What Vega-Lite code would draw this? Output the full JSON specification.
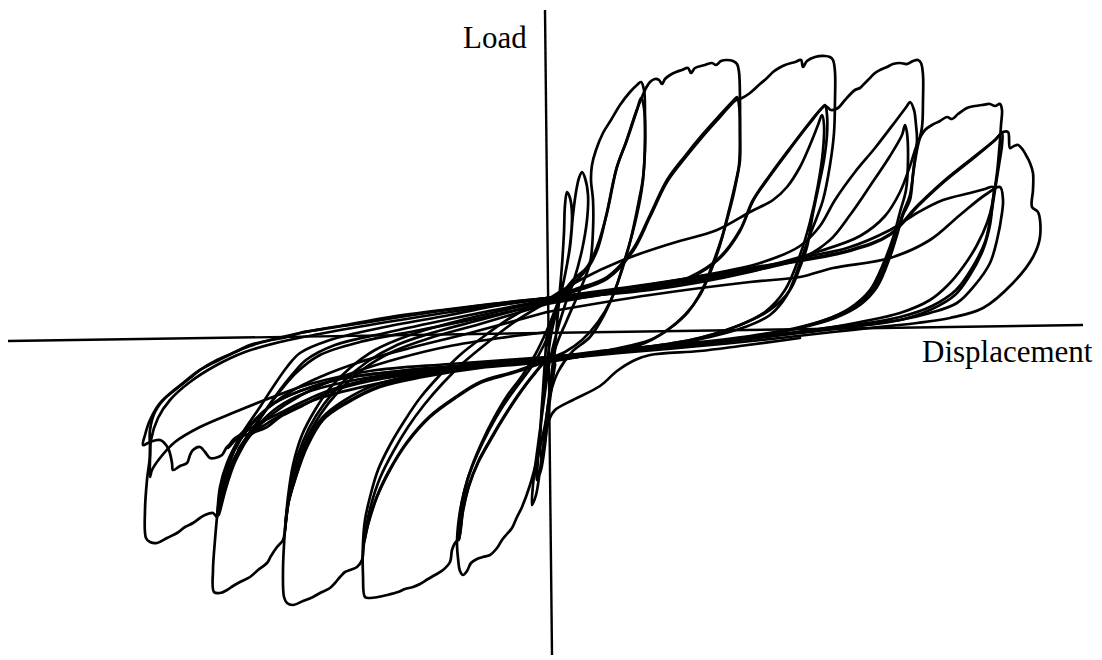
{
  "$schema": "https://vega.github.io/schema/vega-lite/v6.json",
  "width": 1102,
  "height": 660,
  "autosize": {"type": "fit", "contains": "padding"},
  "padding": 0,
  "background": "white",
  "config": {"view": {"stroke": null}},
  "datasets": {
    "axes": [
      {"d1": -539, "l1": -7, "d2": 536, "l2": 9},
      {"d1": -2, "l1": 324, "d2": 5, "l2": -321}
    ],
    "labels": [
      {"t": "Load", "d": -84, "l": 286},
      {"t": "Displacement", "d": 375, "l": -28}
    ],
    "loops": [
      {"s":1,"i":0,"d":0,"l":-11},{"s":1,"i":1,"d":6,"l":16},{"s":1,"i":2,"d":13,"l":37},{"s":1,"i":3,"d":19,"l":64},{"s":1,"i":4,"d":23,"l":87},{"s":1,"i":5,"d":26,"l":119},{"s":1,"i":6,"d":29,"l":142},{"s":1,"i":7,"d":32,"l":156},{"s":1,"i":8,"d":35,"l":162},{"s":1,"i":9,"d":38,"l":156},{"s":1,"i":10,"d":41,"l":139},{"s":1,"i":11,"d":40,"l":114},{"s":1,"i":12,"d":35,"l":84},{"s":1,"i":13,"d":27,"l":54},{"s":1,"i":14,"d":18,"l":29},{"s":1,"i":15,"d":9,"l":-1},{"s":1,"i":16,"d":2,"l":-31},{"s":1,"i":17,"d":-3,"l":-66},{"s":1,"i":18,"d":-7,"l":-96},{"s":1,"i":19,"d":-11,"l":-126},{"s":1,"i":20,"d":-14,"l":-151},{"s":1,"i":21,"d":-15,"l":-171},{"s":1,"i":22,"d":-11,"l":-161},{"s":1,"i":23,"d":-7,"l":-136},{"s":1,"i":24,"d":-3,"l":-106},{"s":1,"i":25,"d":1,"l":-71},{"s":1,"i":26,"d":5,"l":-36},{"s":1,"i":27,"d":9,"l":-1},{"s":1,"i":28,"d":12,"l":34},{"s":1,"i":29,"d":15,"l":69},{"s":1,"i":30,"d":17,"l":102},{"s":1,"i":31,"d":18,"l":129},{"s":1,"i":32,"d":20,"l":142},{"s":1,"i":33,"d":23,"l":136},{"s":1,"i":34,"d":25,"l":119},{"s":1,"i":35,"d":23,"l":89},{"s":1,"i":36,"d":18,"l":59},{"s":1,"i":37,"d":11,"l":29},{"s":1,"i":38,"d":4,"l":-1},{"s":1,"i":39,"d":0,"l":-31},{"s":1,"i":40,"d":-4,"l":-66},{"s":1,"i":41,"d":-7,"l":-101},{"s":1,"i":42,"d":-9,"l":-126},{"s":1,"i":43,"d":-10,"l":-146},{"s":1,"i":44,"d":-6,"l":-136},{"s":1,"i":45,"d":-2,"l":-111},{"s":1,"i":46,"d":1,"l":-81},{"s":1,"i":47,"d":5,"l":-51},{"s":1,"i":48,"d":8,"l":-31},

      {"s":2,"i":0,"d":8,"l":-31},{"s":2,"i":1,"d":8,"l":-16},{"s":2,"i":2,"d":20,"l":14},{"s":2,"i":3,"d":33,"l":44},{"s":2,"i":4,"d":43,"l":71},{"s":2,"i":5,"d":46,"l":104},{"s":2,"i":6,"d":46,"l":134},{"s":2,"i":7,"d":44,"l":154},{"s":2,"i":8,"d":45,"l":169},{"s":2,"i":9,"d":49,"l":184},{"s":2,"i":10,"d":56,"l":201},{"s":2,"i":11,"d":64,"l":214},{"s":2,"i":12,"d":73,"l":229},{"s":2,"i":13,"d":83,"l":242},{"s":2,"i":14,"d":90,"l":249},{"s":2,"i":15,"d":94,"l":252},{"s":2,"i":16,"d":97,"l":244},{"s":2,"i":17,"d":98,"l":219},{"s":2,"i":18,"d":98,"l":184},{"s":2,"i":19,"d":96,"l":154},{"s":2,"i":20,"d":93,"l":134},{"s":2,"i":21,"d":85,"l":99},{"s":2,"i":22,"d":77,"l":72},{"s":2,"i":23,"d":68,"l":44},{"s":2,"i":24,"d":57,"l":19},{"s":2,"i":25,"d":43,"l":-3},{"s":2,"i":26,"d":25,"l":-18},{"s":2,"i":27,"d":11,"l":-38},{"s":2,"i":28,"d":3,"l":-61},{"s":2,"i":29,"d":-2,"l":-91},{"s":2,"i":30,"d":-9,"l":-121},{"s":2,"i":31,"d":-17,"l":-151},{"s":2,"i":32,"d":-25,"l":-173},{"s":2,"i":33,"d":-30,"l":-183},{"s":2,"i":34,"d":-35,"l":-194},{"s":2,"i":35,"d":-40,"l":-200},{"s":2,"i":36,"d":-45,"l":-206},{"s":2,"i":37,"d":-50,"l":-214},{"s":2,"i":38,"d":-57,"l":-221},{"s":2,"i":39,"d":-64,"l":-223},{"s":2,"i":40,"d":-70,"l":-225},{"s":2,"i":41,"d":-76,"l":-229},{"s":2,"i":42,"d":-80,"l":-237},{"s":2,"i":43,"d":-84,"l":-241},{"s":2,"i":44,"d":-87,"l":-237},{"s":2,"i":45,"d":-89,"l":-224},{"s":2,"i":46,"d":-90,"l":-209},{"s":2,"i":47,"d":-88,"l":-184},{"s":2,"i":48,"d":-83,"l":-158},{"s":2,"i":49,"d":-75,"l":-132},{"s":2,"i":50,"d":-65,"l":-108},{"s":2,"i":51,"d":-53,"l":-84},{"s":2,"i":52,"d":-40,"l":-62},{"s":2,"i":53,"d":-25,"l":-42},{"s":2,"i":54,"d":-12,"l":-21},{"s":2,"i":55,"d":0,"l":4},{"s":2,"i":56,"d":8,"l":24},{"s":2,"i":57,"d":13,"l":37},

      {"s":3,"i":0,"d":13,"l":37},{"s":3,"i":1,"d":26,"l":54},{"s":3,"i":2,"d":40,"l":67},{"s":3,"i":3,"d":50,"l":87},{"s":3,"i":4,"d":60,"l":121},{"s":3,"i":5,"d":70,"l":167},{"s":3,"i":6,"d":80,"l":194},{"s":3,"i":7,"d":90,"l":224},{"s":3,"i":8,"d":94,"l":236},{"s":3,"i":9,"d":97,"l":226},{"s":3,"i":10,"d":98,"l":194},{"s":3,"i":11,"d":96,"l":156},{"s":3,"i":12,"d":92,"l":134},{"s":3,"i":13,"d":84,"l":96},{"s":3,"i":14,"d":75,"l":64},{"s":3,"i":15,"d":64,"l":34},{"s":3,"i":16,"d":51,"l":12},{"s":3,"i":17,"d":35,"l":-6},{"s":3,"i":18,"d":18,"l":-18},{"s":3,"i":19,"d":0,"l":-26},{"s":3,"i":20,"d":-14,"l":-41},{"s":3,"i":21,"d":-29,"l":-61},{"s":3,"i":22,"d":-44,"l":-84},{"s":3,"i":23,"d":-57,"l":-106},{"s":3,"i":24,"d":-69,"l":-128},{"s":3,"i":25,"d":-78,"l":-151},{"s":3,"i":26,"d":-84,"l":-176},{"s":3,"i":27,"d":-88,"l":-206},{"s":3,"i":28,"d":-88,"l":-191},{"s":3,"i":29,"d":-85,"l":-168},{"s":3,"i":30,"d":-79,"l":-144},{"s":3,"i":31,"d":-70,"l":-121},{"s":3,"i":32,"d":-58,"l":-96},{"s":3,"i":33,"d":-44,"l":-72},{"s":3,"i":34,"d":-29,"l":-51},{"s":3,"i":35,"d":-15,"l":-32},{"s":3,"i":36,"d":-3,"l":-11},{"s":3,"i":37,"d":6,"l":12},{"s":3,"i":38,"d":13,"l":34},

      {"s":4,"i":0,"d":13,"l":34},{"s":4,"i":1,"d":27,"l":51},{"s":4,"i":2,"d":41,"l":66},{"s":4,"i":3,"d":51,"l":86},{"s":4,"i":4,"d":60,"l":122},{"s":4,"i":5,"d":69,"l":164},{"s":4,"i":6,"d":79,"l":192},{"s":4,"i":7,"d":89,"l":222},{"s":4,"i":8,"d":95,"l":237},{"s":4,"i":9,"d":99,"l":246},{"s":4,"i":10,"d":103,"l":252},{"s":4,"i":11,"d":108,"l":255},{"s":4,"i":12,"d":112,"l":254},{"s":4,"i":13,"d":115,"l":250},{"s":4,"i":14,"d":118,"l":255},{"s":4,"i":15,"d":123,"l":259},{"s":4,"i":16,"d":129,"l":262},{"s":4,"i":17,"d":135,"l":264},{"s":4,"i":18,"d":141,"l":266},{"s":4,"i":19,"d":144,"l":261},{"s":4,"i":20,"d":148,"l":266},{"s":4,"i":21,"d":158,"l":269},{"s":4,"i":22,"d":165,"l":271},{"s":4,"i":23,"d":169,"l":269},{"s":4,"i":24,"d":174,"l":273},{"s":4,"i":25,"d":180,"l":274},{"s":4,"i":26,"d":186,"l":273},{"s":4,"i":27,"d":190,"l":270},{"s":4,"i":28,"d":192,"l":262},{"s":4,"i":29,"d":193,"l":234},{"s":4,"i":30,"d":193,"l":201},{"s":4,"i":31,"d":193,"l":174},{"s":4,"i":32,"d":190,"l":156},{"s":4,"i":33,"d":186,"l":137},{"s":4,"i":34,"d":180,"l":114},{"s":4,"i":35,"d":173,"l":89},{"s":4,"i":36,"d":165,"l":66},{"s":4,"i":37,"d":153,"l":39},{"s":4,"i":38,"d":138,"l":19},{"s":4,"i":39,"d":118,"l":2},{"s":4,"i":40,"d":93,"l":-11},{"s":4,"i":41,"d":53,"l":-19},{"s":4,"i":42,"d":23,"l":-24},{"s":4,"i":43,"d":0,"l":-27},{"s":4,"i":44,"d":-14,"l":-42},{"s":4,"i":45,"d":-29,"l":-62},{"s":4,"i":46,"d":-44,"l":-85},{"s":4,"i":47,"d":-57,"l":-107},{"s":4,"i":48,"d":-69,"l":-129},{"s":4,"i":49,"d":-78,"l":-152},{"s":4,"i":50,"d":-84,"l":-177},{"s":4,"i":51,"d":-88,"l":-204},{"s":4,"i":52,"d":-92,"l":-209},{"s":4,"i":53,"d":-95,"l":-216},{"s":4,"i":54,"d":-97,"l":-228},{"s":4,"i":55,"d":-104,"l":-236},{"s":4,"i":56,"d":-112,"l":-241},{"s":4,"i":57,"d":-119,"l":-245},{"s":4,"i":58,"d":-127,"l":-250},{"s":4,"i":59,"d":-134,"l":-253},{"s":4,"i":60,"d":-142,"l":-255},{"s":4,"i":61,"d":-149,"l":-258},{"s":4,"i":62,"d":-160,"l":-261},{"s":4,"i":63,"d":-169,"l":-263},{"s":4,"i":64,"d":-177,"l":-264},{"s":4,"i":65,"d":-182,"l":-263},{"s":4,"i":66,"d":-184,"l":-241},{"s":4,"i":67,"d":-184,"l":-209},{"s":4,"i":68,"d":-182,"l":-186},{"s":4,"i":69,"d":-177,"l":-163},{"s":4,"i":70,"d":-169,"l":-136},{"s":4,"i":71,"d":-157,"l":-111},{"s":4,"i":72,"d":-142,"l":-86},{"s":4,"i":73,"d":-127,"l":-64},{"s":4,"i":74,"d":-107,"l":-41},{"s":4,"i":75,"d":-87,"l":-21},{"s":4,"i":76,"d":-64,"l":-3},{"s":4,"i":77,"d":-37,"l":16},{"s":4,"i":78,"d":-17,"l":27},{"s":4,"i":79,"d":0,"l":34},

      {"s":5,"i":0,"d":0,"l":34},{"s":5,"i":1,"d":26,"l":44},{"s":5,"i":2,"d":60,"l":57},{"s":5,"i":3,"d":86,"l":85},{"s":5,"i":4,"d":103,"l":119},{"s":5,"i":5,"d":120,"l":154},{"s":5,"i":6,"d":138,"l":178},{"s":5,"i":7,"d":156,"l":200},{"s":5,"i":8,"d":173,"l":219},{"s":5,"i":9,"d":186,"l":233},{"s":5,"i":10,"d":190,"l":237},{"s":5,"i":11,"d":192,"l":229},{"s":5,"i":12,"d":193,"l":199},{"s":5,"i":13,"d":192,"l":169},{"s":5,"i":14,"d":188,"l":149},{"s":5,"i":15,"d":182,"l":124},{"s":5,"i":16,"d":175,"l":97},{"s":5,"i":17,"d":166,"l":71},{"s":5,"i":18,"d":155,"l":44},{"s":5,"i":19,"d":141,"l":22},{"s":5,"i":20,"d":123,"l":6},{"s":5,"i":21,"d":103,"l":-6},{"s":5,"i":22,"d":63,"l":-16},{"s":5,"i":23,"d":28,"l":-23},{"s":5,"i":24,"d":0,"l":-28},{"s":5,"i":25,"d":-34,"l":-39},{"s":5,"i":26,"d":-67,"l":-49},{"s":5,"i":27,"d":-90,"l":-63},{"s":5,"i":28,"d":-117,"l":-83},{"s":5,"i":29,"d":-140,"l":-109},{"s":5,"i":30,"d":-157,"l":-136},{"s":5,"i":31,"d":-170,"l":-163},{"s":5,"i":32,"d":-179,"l":-191},{"s":5,"i":33,"d":-183,"l":-209},{"s":5,"i":34,"d":-181,"l":-194},{"s":5,"i":35,"d":-176,"l":-171},{"s":5,"i":36,"d":-167,"l":-144},{"s":5,"i":37,"d":-154,"l":-118},{"s":5,"i":38,"d":-139,"l":-93},{"s":5,"i":39,"d":-123,"l":-71},{"s":5,"i":40,"d":-104,"l":-49},{"s":5,"i":41,"d":-84,"l":-29},{"s":5,"i":42,"d":-60,"l":-9},{"s":5,"i":43,"d":-34,"l":11},{"s":5,"i":44,"d":0,"l":32},

      {"s":6,"i":0,"d":0,"l":32},{"s":6,"i":1,"d":26,"l":42},{"s":6,"i":2,"d":60,"l":55},{"s":6,"i":3,"d":86,"l":83},{"s":6,"i":4,"d":103,"l":117},{"s":6,"i":5,"d":120,"l":152},{"s":6,"i":6,"d":138,"l":176},{"s":6,"i":7,"d":156,"l":198},{"s":6,"i":8,"d":173,"l":217},{"s":6,"i":9,"d":189,"l":234},{"s":6,"i":10,"d":195,"l":236},{"s":6,"i":11,"d":203,"l":241},{"s":6,"i":12,"d":213,"l":250},{"s":6,"i":13,"d":220,"l":256},{"s":6,"i":14,"d":226,"l":262},{"s":6,"i":15,"d":232,"l":266},{"s":6,"i":16,"d":238,"l":269},{"s":6,"i":17,"d":248,"l":272},{"s":6,"i":18,"d":254,"l":274},{"s":6,"i":19,"d":256,"l":267},{"s":6,"i":20,"d":260,"l":273},{"s":6,"i":21,"d":268,"l":277},{"s":6,"i":22,"d":278,"l":278},{"s":6,"i":23,"d":283,"l":277},{"s":6,"i":24,"d":286,"l":274},{"s":6,"i":25,"d":288,"l":262},{"s":6,"i":26,"d":288,"l":234},{"s":6,"i":27,"d":287,"l":201},{"s":6,"i":28,"d":283,"l":169},{"s":6,"i":29,"d":276,"l":134},{"s":6,"i":30,"d":270,"l":117},{"s":6,"i":31,"d":261,"l":94},{"s":6,"i":32,"d":253,"l":71},{"s":6,"i":33,"d":240,"l":39},{"s":6,"i":34,"d":223,"l":19},{"s":6,"i":35,"d":198,"l":7},{"s":6,"i":36,"d":163,"l":-3},{"s":6,"i":37,"d":123,"l":-11},{"s":6,"i":38,"d":63,"l":-18},{"s":6,"i":39,"d":0,"l":-27},{"s":6,"i":40,"d":-34,"l":-38},{"s":6,"i":41,"d":-67,"l":-48},{"s":6,"i":42,"d":-90,"l":-62},{"s":6,"i":43,"d":-117,"l":-82},{"s":6,"i":44,"d":-140,"l":-108},{"s":6,"i":45,"d":-157,"l":-135},{"s":6,"i":46,"d":-170,"l":-162},{"s":6,"i":47,"d":-179,"l":-190},{"s":6,"i":48,"d":-183,"l":-209},{"s":6,"i":49,"d":-185,"l":-226},{"s":6,"i":50,"d":-190,"l":-233},{"s":6,"i":51,"d":-197,"l":-236},{"s":6,"i":52,"d":-202,"l":-238},{"s":6,"i":53,"d":-207,"l":-243},{"s":6,"i":54,"d":-212,"l":-249},{"s":6,"i":55,"d":-217,"l":-254},{"s":6,"i":56,"d":-227,"l":-259},{"s":6,"i":57,"d":-234,"l":-263},{"s":6,"i":58,"d":-244,"l":-267},{"s":6,"i":59,"d":-254,"l":-271},{"s":6,"i":60,"d":-260,"l":-269},{"s":6,"i":61,"d":-263,"l":-263},{"s":6,"i":62,"d":-264,"l":-236},{"s":6,"i":63,"d":-263,"l":-211},{"s":6,"i":64,"d":-262,"l":-196},{"s":6,"i":65,"d":-259,"l":-163},{"s":6,"i":66,"d":-254,"l":-131},{"s":6,"i":67,"d":-245,"l":-101},{"s":6,"i":68,"d":-232,"l":-76},{"s":6,"i":69,"d":-217,"l":-54},{"s":6,"i":70,"d":-197,"l":-34},{"s":6,"i":71,"d":-172,"l":-16},{"s":6,"i":72,"d":-137,"l":-1},{"s":6,"i":73,"d":-97,"l":11},{"s":6,"i":74,"d":-47,"l":23},{"s":6,"i":75,"d":0,"l":33},

      {"s":7,"i":0,"d":0,"l":33},{"s":7,"i":1,"d":60,"l":41},{"s":7,"i":2,"d":110,"l":47},{"s":7,"i":3,"d":143,"l":57},{"s":7,"i":4,"d":173,"l":77},{"s":7,"i":5,"d":193,"l":104},{"s":7,"i":6,"d":206,"l":134},{"s":7,"i":7,"d":223,"l":159},{"s":7,"i":8,"d":243,"l":186},{"s":7,"i":9,"d":263,"l":212},{"s":7,"i":10,"d":275,"l":226},{"s":7,"i":11,"d":278,"l":229},{"s":7,"i":12,"d":280,"l":219},{"s":7,"i":13,"d":280,"l":199},{"s":7,"i":14,"d":277,"l":174},{"s":7,"i":15,"d":273,"l":154},{"s":7,"i":16,"d":266,"l":121},{"s":7,"i":17,"d":260,"l":87},{"s":7,"i":18,"d":253,"l":67},{"s":7,"i":19,"d":243,"l":44},{"s":7,"i":20,"d":223,"l":24},{"s":7,"i":21,"d":193,"l":9},{"s":7,"i":22,"d":153,"l":-4},{"s":7,"i":23,"d":93,"l":-14},{"s":7,"i":24,"d":43,"l":-21},{"s":7,"i":25,"d":0,"l":-28},{"s":7,"i":26,"d":-67,"l":-34},{"s":7,"i":27,"d":-124,"l":-43},{"s":7,"i":28,"d":-167,"l":-53},{"s":7,"i":29,"d":-200,"l":-69},{"s":7,"i":30,"d":-224,"l":-86},{"s":7,"i":31,"d":-240,"l":-113},{"s":7,"i":32,"d":-252,"l":-146},{"s":7,"i":33,"d":-259,"l":-171},{"s":7,"i":34,"d":-262,"l":-196},{"s":7,"i":35,"d":-260,"l":-178},{"s":7,"i":36,"d":-256,"l":-151},{"s":7,"i":37,"d":-249,"l":-121},{"s":7,"i":38,"d":-238,"l":-94},{"s":7,"i":39,"d":-223,"l":-70},{"s":7,"i":40,"d":-204,"l":-48},{"s":7,"i":41,"d":-180,"l":-28},{"s":7,"i":42,"d":-150,"l":-11},{"s":7,"i":43,"d":-112,"l":2},{"s":7,"i":44,"d":-67,"l":14},{"s":7,"i":45,"d":0,"l":32},

      {"s":8,"i":0,"d":0,"l":34},{"s":8,"i":1,"d":33,"l":54},{"s":8,"i":2,"d":76,"l":74},{"s":8,"i":3,"d":126,"l":91},{"s":8,"i":4,"d":170,"l":104},{"s":8,"i":5,"d":203,"l":122},{"s":8,"i":6,"d":226,"l":134},{"s":8,"i":7,"d":240,"l":147},{"s":8,"i":8,"d":253,"l":167},{"s":8,"i":9,"d":263,"l":189},{"s":8,"i":10,"d":271,"l":209},{"s":8,"i":11,"d":275,"l":219},{"s":8,"i":12,"d":277,"l":209},{"s":8,"i":13,"d":276,"l":184},{"s":8,"i":14,"d":271,"l":149},{"s":8,"i":15,"d":263,"l":112},{"s":8,"i":16,"d":253,"l":79},{"s":8,"i":17,"d":238,"l":44},{"s":8,"i":18,"d":218,"l":22},{"s":8,"i":19,"d":188,"l":7},{"s":8,"i":20,"d":143,"l":-6},{"s":8,"i":21,"d":83,"l":-15},{"s":8,"i":22,"d":0,"l":-26},{"s":8,"i":23,"d":-77,"l":-32},{"s":8,"i":24,"d":-127,"l":-40},{"s":8,"i":25,"d":-172,"l":-51},{"s":8,"i":26,"d":-202,"l":-66},{"s":8,"i":27,"d":-225,"l":-84},{"s":8,"i":28,"d":-242,"l":-113},{"s":8,"i":29,"d":-254,"l":-148},{"s":8,"i":30,"d":-260,"l":-176},{"s":8,"i":31,"d":-262,"l":-194},{"s":8,"i":32,"d":-258,"l":-166},{"s":8,"i":33,"d":-251,"l":-136},{"s":8,"i":34,"d":-241,"l":-106},{"s":8,"i":35,"d":-227,"l":-81},{"s":8,"i":36,"d":-209,"l":-58},{"s":8,"i":37,"d":-185,"l":-36},{"s":8,"i":38,"d":-155,"l":-18},{"s":8,"i":39,"d":-117,"l":-4},{"s":8,"i":40,"d":-67,"l":10},{"s":8,"i":41,"d":0,"l":30},

      {"s":9,"i":0,"d":0,"l":30},{"s":9,"i":1,"d":60,"l":40},{"s":9,"i":2,"d":110,"l":46},{"s":9,"i":3,"d":143,"l":56},{"s":9,"i":4,"d":173,"l":76},{"s":9,"i":5,"d":193,"l":103},{"s":9,"i":6,"d":206,"l":133},{"s":9,"i":7,"d":223,"l":158},{"s":9,"i":8,"d":243,"l":185},{"s":9,"i":9,"d":263,"l":211},{"s":9,"i":10,"d":278,"l":228},{"s":9,"i":11,"d":284,"l":224},{"s":9,"i":12,"d":291,"l":226},{"s":9,"i":13,"d":298,"l":234},{"s":9,"i":14,"d":308,"l":244},{"s":9,"i":15,"d":313,"l":246},{"s":9,"i":16,"d":317,"l":250},{"s":9,"i":17,"d":321,"l":254},{"s":9,"i":18,"d":328,"l":261},{"s":9,"i":19,"d":333,"l":264},{"s":9,"i":20,"d":340,"l":267},{"s":9,"i":21,"d":346,"l":270},{"s":9,"i":22,"d":353,"l":271},{"s":9,"i":23,"d":360,"l":270},{"s":9,"i":24,"d":366,"l":273},{"s":9,"i":25,"d":371,"l":274},{"s":9,"i":26,"d":374,"l":271},{"s":9,"i":27,"d":376,"l":259},{"s":9,"i":28,"d":376,"l":234},{"s":9,"i":29,"d":375,"l":207},{"s":9,"i":30,"d":370,"l":184},{"s":9,"i":31,"d":366,"l":159},{"s":9,"i":32,"d":363,"l":134},{"s":9,"i":33,"d":356,"l":119},{"s":9,"i":34,"d":350,"l":99},{"s":9,"i":35,"d":343,"l":77},{"s":9,"i":36,"d":330,"l":47},{"s":9,"i":37,"d":313,"l":29},{"s":9,"i":38,"d":288,"l":16},{"s":9,"i":39,"d":253,"l":6},{"s":9,"i":40,"d":203,"l":-3},{"s":9,"i":41,"d":133,"l":-11},{"s":9,"i":42,"d":53,"l":-18},{"s":9,"i":43,"d":0,"l":-26},{"s":9,"i":44,"d":-67,"l":-33},{"s":9,"i":45,"d":-124,"l":-42},{"s":9,"i":46,"d":-167,"l":-52},{"s":9,"i":47,"d":-200,"l":-68},{"s":9,"i":48,"d":-224,"l":-85},{"s":9,"i":49,"d":-240,"l":-112},{"s":9,"i":50,"d":-252,"l":-145},{"s":9,"i":51,"d":-259,"l":-170},{"s":9,"i":52,"d":-262,"l":-196},{"s":9,"i":53,"d":-264,"l":-206},{"s":9,"i":54,"d":-270,"l":-213},{"s":9,"i":55,"d":-276,"l":-222},{"s":9,"i":56,"d":-280,"l":-229},{"s":9,"i":57,"d":-289,"l":-236},{"s":9,"i":58,"d":-297,"l":-243},{"s":9,"i":59,"d":-307,"l":-248},{"s":9,"i":60,"d":-314,"l":-252},{"s":9,"i":61,"d":-320,"l":-256},{"s":9,"i":62,"d":-327,"l":-259},{"s":9,"i":63,"d":-333,"l":-258},{"s":9,"i":64,"d":-334,"l":-236},{"s":9,"i":65,"d":-332,"l":-206},{"s":9,"i":66,"d":-330,"l":-183},{"s":9,"i":67,"d":-327,"l":-153},{"s":9,"i":68,"d":-320,"l":-129},{"s":9,"i":69,"d":-307,"l":-103},{"s":9,"i":70,"d":-287,"l":-73},{"s":9,"i":71,"d":-274,"l":-53},{"s":9,"i":72,"d":-260,"l":-33},{"s":9,"i":73,"d":-247,"l":-19},{"s":9,"i":74,"d":-217,"l":-6},{"s":9,"i":75,"d":-167,"l":6},{"s":9,"i":76,"d":-97,"l":19},{"s":9,"i":77,"d":-47,"l":29},{"s":9,"i":78,"d":0,"l":36},

      {"s":10,"i":0,"d":0,"l":36},{"s":10,"i":1,"d":73,"l":45},{"s":10,"i":2,"d":153,"l":58},{"s":10,"i":3,"d":213,"l":71},{"s":10,"i":4,"d":253,"l":88},{"s":10,"i":5,"d":273,"l":108},{"s":10,"i":6,"d":288,"l":134},{"s":10,"i":7,"d":308,"l":162},{"s":10,"i":8,"d":328,"l":186},{"s":10,"i":9,"d":348,"l":212},{"s":10,"i":10,"d":360,"l":228},{"s":10,"i":11,"d":363,"l":232},{"s":10,"i":12,"d":367,"l":224},{"s":10,"i":13,"d":369,"l":209},{"s":10,"i":14,"d":370,"l":194},{"s":10,"i":15,"d":367,"l":169},{"s":10,"i":16,"d":363,"l":139},{"s":10,"i":17,"d":356,"l":121},{"s":10,"i":18,"d":349,"l":99},{"s":10,"i":19,"d":341,"l":76},{"s":10,"i":20,"d":328,"l":48},{"s":10,"i":21,"d":311,"l":30},{"s":10,"i":22,"d":286,"l":17},{"s":10,"i":23,"d":253,"l":7},{"s":10,"i":24,"d":203,"l":-2},{"s":10,"i":25,"d":133,"l":-10},{"s":10,"i":26,"d":53,"l":-17},{"s":10,"i":27,"d":0,"l":-24},{"s":10,"i":28,"d":-77,"l":-31},{"s":10,"i":29,"d":-147,"l":-37},{"s":10,"i":30,"d":-207,"l":-45},{"s":10,"i":31,"d":-247,"l":-57},{"s":10,"i":32,"d":-274,"l":-70},{"s":10,"i":33,"d":-292,"l":-86},{"s":10,"i":34,"d":-307,"l":-106},{"s":10,"i":35,"d":-319,"l":-131},{"s":10,"i":36,"d":-326,"l":-156},{"s":10,"i":37,"d":-330,"l":-183},{"s":10,"i":38,"d":-325,"l":-158},{"s":10,"i":39,"d":-317,"l":-133},{"s":10,"i":40,"d":-303,"l":-107},{"s":10,"i":41,"d":-284,"l":-80},{"s":10,"i":42,"d":-270,"l":-60},{"s":10,"i":43,"d":-255,"l":-41},{"s":10,"i":44,"d":-241,"l":-26},{"s":10,"i":45,"d":-212,"l":-11},{"s":10,"i":46,"d":-162,"l":1},{"s":10,"i":47,"d":-97,"l":15},{"s":10,"i":48,"d":-47,"l":25},{"s":10,"i":49,"d":0,"l":34},

      {"s":11,"i":0,"d":0,"l":34},{"s":11,"i":1,"d":103,"l":46},{"s":11,"i":2,"d":193,"l":61},{"s":11,"i":3,"d":253,"l":75},{"s":11,"i":4,"d":283,"l":94},{"s":11,"i":5,"d":303,"l":119},{"s":11,"i":6,"d":323,"l":148},{"s":11,"i":7,"d":343,"l":178},{"s":11,"i":8,"d":355,"l":199},{"s":11,"i":9,"d":358,"l":209},{"s":11,"i":10,"d":360,"l":201},{"s":11,"i":11,"d":361,"l":174},{"s":11,"i":12,"d":359,"l":144},{"s":11,"i":13,"d":353,"l":122},{"s":11,"i":14,"d":346,"l":96},{"s":11,"i":15,"d":337,"l":72},{"s":11,"i":16,"d":323,"l":44},{"s":11,"i":17,"d":303,"l":26},{"s":11,"i":18,"d":278,"l":14},{"s":11,"i":19,"d":243,"l":4},{"s":11,"i":20,"d":193,"l":-5},{"s":11,"i":21,"d":123,"l":-13},{"s":11,"i":22,"d":53,"l":-20},{"s":11,"i":23,"d":0,"l":-27},{"s":11,"i":24,"d":-77,"l":-33},{"s":11,"i":25,"d":-147,"l":-39},{"s":11,"i":26,"d":-202,"l":-48},{"s":11,"i":27,"d":-242,"l":-59},{"s":11,"i":28,"d":-269,"l":-73},{"s":11,"i":29,"d":-287,"l":-89},{"s":11,"i":30,"d":-302,"l":-109},{"s":11,"i":31,"d":-315,"l":-133},{"s":11,"i":32,"d":-323,"l":-158},{"s":11,"i":33,"d":-328,"l":-181},{"s":11,"i":34,"d":-321,"l":-154},{"s":11,"i":35,"d":-312,"l":-128},{"s":11,"i":36,"d":-298,"l":-102},{"s":11,"i":37,"d":-281,"l":-76},{"s":11,"i":38,"d":-266,"l":-56},{"s":11,"i":39,"d":-250,"l":-38},{"s":11,"i":40,"d":-227,"l":-21},{"s":11,"i":41,"d":-187,"l":-8},{"s":11,"i":42,"d":-127,"l":4},{"s":11,"i":43,"d":-67,"l":16},{"s":11,"i":44,"d":0,"l":31},

      {"s":12,"i":0,"d":0,"l":31},{"s":12,"i":1,"d":103,"l":47},{"s":12,"i":2,"d":203,"l":64},{"s":12,"i":3,"d":273,"l":83},{"s":12,"i":4,"d":313,"l":98},{"s":12,"i":5,"d":338,"l":118},{"s":12,"i":6,"d":353,"l":142},{"s":12,"i":7,"d":363,"l":168},{"s":12,"i":8,"d":371,"l":192},{"s":12,"i":9,"d":378,"l":204},{"s":12,"i":10,"d":385,"l":209},{"s":12,"i":11,"d":393,"l":213},{"s":12,"i":12,"d":400,"l":217},{"s":12,"i":13,"d":405,"l":215},{"s":12,"i":14,"d":411,"l":220},{"s":12,"i":15,"d":420,"l":226},{"s":12,"i":16,"d":428,"l":228},{"s":12,"i":17,"d":435,"l":229},{"s":12,"i":18,"d":443,"l":230},{"s":12,"i":19,"d":448,"l":228},{"s":12,"i":20,"d":453,"l":230},{"s":12,"i":21,"d":455,"l":224},{"s":12,"i":22,"d":454,"l":209},{"s":12,"i":23,"d":453,"l":194},{"s":12,"i":24,"d":450,"l":161},{"s":12,"i":25,"d":446,"l":134},{"s":12,"i":26,"d":443,"l":109},{"s":12,"i":27,"d":436,"l":84},{"s":12,"i":28,"d":423,"l":59},{"s":12,"i":29,"d":408,"l":39},{"s":12,"i":30,"d":383,"l":24},{"s":12,"i":31,"d":353,"l":14},{"s":12,"i":32,"d":313,"l":8},{"s":12,"i":33,"d":253,"l":1},{"s":12,"i":34,"d":173,"l":-8},{"s":12,"i":35,"d":93,"l":-16},{"s":12,"i":36,"d":0,"l":-24},{"s":12,"i":37,"d":-77,"l":-31},{"s":12,"i":38,"d":-147,"l":-37},{"s":12,"i":39,"d":-207,"l":-45},{"s":12,"i":40,"d":-247,"l":-57},{"s":12,"i":41,"d":-274,"l":-70},{"s":12,"i":42,"d":-292,"l":-86},{"s":12,"i":43,"d":-307,"l":-106},{"s":12,"i":44,"d":-319,"l":-131},{"s":12,"i":45,"d":-326,"l":-156},{"s":12,"i":46,"d":-330,"l":-183},{"s":12,"i":47,"d":-334,"l":-179},{"s":12,"i":48,"d":-342,"l":-181},{"s":12,"i":49,"d":-347,"l":-184},{"s":12,"i":50,"d":-354,"l":-189},{"s":12,"i":51,"d":-362,"l":-193},{"s":12,"i":52,"d":-370,"l":-199},{"s":12,"i":53,"d":-380,"l":-204},{"s":12,"i":54,"d":-390,"l":-209},{"s":12,"i":55,"d":-397,"l":-208},{"s":12,"i":56,"d":-401,"l":-204},{"s":12,"i":57,"d":-402,"l":-176},{"s":12,"i":58,"d":-400,"l":-146},{"s":12,"i":59,"d":-397,"l":-121},{"s":12,"i":60,"d":-397,"l":-96},{"s":12,"i":61,"d":-392,"l":-78},{"s":12,"i":62,"d":-382,"l":-64},{"s":12,"i":63,"d":-364,"l":-49},{"s":12,"i":64,"d":-347,"l":-36},{"s":12,"i":65,"d":-330,"l":-27},{"s":12,"i":66,"d":-314,"l":-19},{"s":12,"i":67,"d":-297,"l":-12},{"s":12,"i":68,"d":-280,"l":-7},{"s":12,"i":69,"d":-260,"l":-3},{"s":12,"i":70,"d":-247,"l":1},{"s":12,"i":71,"d":-197,"l":9},{"s":12,"i":72,"d":-147,"l":17},{"s":12,"i":73,"d":-77,"l":27},{"s":12,"i":74,"d":0,"l":36},

      {"s":13,"i":0,"d":0,"l":36},{"s":13,"i":1,"d":103,"l":50},{"s":13,"i":2,"d":203,"l":66},{"s":13,"i":3,"d":303,"l":84},{"s":13,"i":4,"d":343,"l":100},{"s":13,"i":5,"d":371,"l":129},{"s":13,"i":6,"d":398,"l":154},{"s":13,"i":7,"d":428,"l":178},{"s":13,"i":8,"d":448,"l":194},{"s":13,"i":9,"d":455,"l":201},{"s":13,"i":10,"d":455,"l":189},{"s":13,"i":11,"d":452,"l":169},{"s":13,"i":12,"d":448,"l":144},{"s":13,"i":13,"d":444,"l":119},{"s":13,"i":14,"d":438,"l":92},{"s":13,"i":15,"d":425,"l":66},{"s":13,"i":16,"d":409,"l":44},{"s":13,"i":17,"d":385,"l":28},{"s":13,"i":18,"d":353,"l":17},{"s":13,"i":19,"d":308,"l":9},{"s":13,"i":20,"d":253,"l":2},{"s":13,"i":21,"d":173,"l":-7},{"s":13,"i":22,"d":93,"l":-15},{"s":13,"i":23,"d":0,"l":-23},{"s":13,"i":24,"d":-97,"l":-30},{"s":13,"i":25,"d":-177,"l":-37},{"s":13,"i":26,"d":-237,"l":-50},{"s":13,"i":27,"d":-277,"l":-64},{"s":13,"i":28,"d":-312,"l":-78},{"s":13,"i":29,"d":-347,"l":-93},{"s":13,"i":30,"d":-372,"l":-108},{"s":13,"i":31,"d":-387,"l":-124},{"s":13,"i":32,"d":-395,"l":-136},{"s":13,"i":33,"d":-397,"l":-143},{"s":13,"i":34,"d":-397,"l":-126},{"s":13,"i":35,"d":-396,"l":-106},{"s":13,"i":36,"d":-389,"l":-84},{"s":13,"i":37,"d":-377,"l":-66},{"s":13,"i":38,"d":-357,"l":-48},{"s":13,"i":39,"d":-332,"l":-32},{"s":13,"i":40,"d":-302,"l":-18},{"s":13,"i":41,"d":-267,"l":-8},{"s":13,"i":42,"d":-217,"l":2},{"s":13,"i":43,"d":-147,"l":14},{"s":13,"i":44,"d":-77,"l":25},{"s":13,"i":45,"d":0,"l":35},

      {"s":14,"i":0,"d":0,"l":35},{"s":14,"i":1,"d":103,"l":49},{"s":14,"i":2,"d":203,"l":65},{"s":14,"i":3,"d":303,"l":83},{"s":14,"i":4,"d":343,"l":99},{"s":14,"i":5,"d":371,"l":128},{"s":14,"i":6,"d":398,"l":153},{"s":14,"i":7,"d":428,"l":177},{"s":14,"i":8,"d":448,"l":194},{"s":14,"i":9,"d":456,"l":202},{"s":14,"i":10,"d":461,"l":202},{"s":14,"i":11,"d":463,"l":186},{"s":14,"i":12,"d":467,"l":188},{"s":14,"i":13,"d":471,"l":189},{"s":14,"i":14,"d":476,"l":184},{"s":14,"i":15,"d":480,"l":177},{"s":14,"i":16,"d":483,"l":171},{"s":14,"i":17,"d":486,"l":161},{"s":14,"i":18,"d":486,"l":144},{"s":14,"i":19,"d":485,"l":127},{"s":14,"i":20,"d":491,"l":122},{"s":14,"i":21,"d":493,"l":97},{"s":14,"i":22,"d":486,"l":77},{"s":14,"i":23,"d":466,"l":51},{"s":14,"i":24,"d":436,"l":26},{"s":14,"i":25,"d":403,"l":16},{"s":14,"i":26,"d":370,"l":11},{"s":14,"i":27,"d":323,"l":6},{"s":14,"i":28,"d":286,"l":2},{"s":14,"i":29,"d":233,"l":-4},{"s":14,"i":30,"d":153,"l":-12},{"s":14,"i":31,"d":73,"l":-19},{"s":14,"i":32,"d":0,"l":-26},{"s":14,"i":33,"d":-67,"l":-32},{"s":14,"i":34,"d":-127,"l":-39},{"s":14,"i":35,"d":-177,"l":-47},{"s":14,"i":36,"d":-217,"l":-58},{"s":14,"i":37,"d":-247,"l":-73},{"s":14,"i":38,"d":-267,"l":-83},{"s":14,"i":39,"d":-280,"l":-93},{"s":14,"i":40,"d":-292,"l":-98},{"s":14,"i":41,"d":-307,"l":-103},{"s":14,"i":42,"d":-320,"l":-113},{"s":14,"i":43,"d":-325,"l":-121},{"s":14,"i":44,"d":-332,"l":-124},{"s":14,"i":45,"d":-337,"l":-124},{"s":14,"i":46,"d":-342,"l":-118},{"s":14,"i":47,"d":-347,"l":-113},{"s":14,"i":48,"d":-354,"l":-116},{"s":14,"i":49,"d":-357,"l":-121},{"s":14,"i":50,"d":-360,"l":-129},{"s":14,"i":51,"d":-367,"l":-132},{"s":14,"i":52,"d":-374,"l":-136},{"s":14,"i":53,"d":-375,"l":-129},{"s":14,"i":54,"d":-379,"l":-114},{"s":14,"i":55,"d":-387,"l":-106},{"s":14,"i":56,"d":-397,"l":-108},{"s":14,"i":57,"d":-404,"l":-111},{"s":14,"i":58,"d":-402,"l":-101},{"s":14,"i":59,"d":-397,"l":-86},{"s":14,"i":60,"d":-387,"l":-69},{"s":14,"i":61,"d":-372,"l":-56},{"s":14,"i":62,"d":-357,"l":-44},{"s":14,"i":63,"d":-347,"l":-36},{"s":14,"i":64,"d":-330,"l":-26},{"s":14,"i":65,"d":-314,"l":-19},{"s":14,"i":66,"d":-297,"l":-11},{"s":14,"i":67,"d":-277,"l":-6},{"s":14,"i":68,"d":-247,"l":1},{"s":14,"i":69,"d":-207,"l":8},{"s":14,"i":70,"d":-157,"l":17},{"s":14,"i":71,"d":-97,"l":25},{"s":14,"i":72,"d":-47,"l":31},{"s":14,"i":73,"d":0,"l":36},

      {"s":15,"i":0,"d":0,"l":36},{"s":15,"i":1,"d":103,"l":44},{"s":15,"i":2,"d":203,"l":62},{"s":15,"i":3,"d":253,"l":76},{"s":15,"i":4,"d":300,"l":86},{"s":15,"i":5,"d":343,"l":104},{"s":15,"i":6,"d":370,"l":121},{"s":15,"i":7,"d":396,"l":134},{"s":15,"i":8,"d":423,"l":141},{"s":15,"i":9,"d":438,"l":145},{"s":15,"i":10,"d":446,"l":147},{"s":15,"i":11,"d":445,"l":129},{"s":15,"i":12,"d":440,"l":111},{"s":15,"i":13,"d":430,"l":89},{"s":15,"i":14,"d":416,"l":67},{"s":15,"i":15,"d":401,"l":49},{"s":15,"i":16,"d":383,"l":34},{"s":15,"i":17,"d":353,"l":21},{"s":15,"i":18,"d":313,"l":12},{"s":15,"i":19,"d":280,"l":6},{"s":15,"i":20,"d":233,"l":-1},{"s":15,"i":21,"d":153,"l":-9},{"s":15,"i":22,"d":73,"l":-16},{"s":15,"i":23,"d":0,"l":-24},{"s":15,"i":24,"d":-97,"l":-33},{"s":15,"i":25,"d":-167,"l":-43},{"s":15,"i":26,"d":-217,"l":-56},{"s":15,"i":27,"d":-247,"l":-69},{"s":15,"i":28,"d":-267,"l":-79},{"s":15,"i":29,"d":-287,"l":-89},{"s":15,"i":30,"d":-302,"l":-98},{"s":15,"i":31,"d":-314,"l":-106},{"s":15,"i":32,"d":-319,"l":-114},{"s":15,"i":33,"d":-312,"l":-106},{"s":15,"i":34,"d":-297,"l":-91},{"s":15,"i":35,"d":-279,"l":-74},{"s":15,"i":36,"d":-257,"l":-58},{"s":15,"i":37,"d":-227,"l":-43},{"s":15,"i":38,"d":-187,"l":-28},{"s":15,"i":39,"d":-137,"l":-14},{"s":15,"i":40,"d":-77,"l":1},{"s":15,"i":41,"d":0,"l":22},

      {"s":16,"i":0,"d":0,"l":22},{"s":16,"i":1,"d":103,"l":39},{"s":16,"i":2,"d":203,"l":52},{"s":16,"i":3,"d":253,"l":57},{"s":16,"i":4,"d":286,"l":66},{"s":16,"i":5,"d":343,"l":76},{"s":16,"i":6,"d":383,"l":94},{"s":16,"i":7,"d":413,"l":119},{"s":16,"i":8,"d":438,"l":139},{"s":16,"i":9,"d":453,"l":147},{"s":16,"i":10,"d":456,"l":134},{"s":16,"i":11,"d":455,"l":121},{"s":16,"i":12,"d":450,"l":94},{"s":16,"i":13,"d":443,"l":71},{"s":16,"i":14,"d":428,"l":49},{"s":16,"i":15,"d":410,"l":31},{"s":16,"i":16,"d":383,"l":21},{"s":16,"i":17,"d":353,"l":14},{"s":16,"i":18,"d":286,"l":7},{"s":16,"i":19,"d":213,"l":-3},{"s":16,"i":20,"d":133,"l":-11},{"s":16,"i":21,"d":53,"l":-19},{"s":16,"i":22,"d":0,"l":-26},{"s":16,"i":23,"d":-97,"l":-36},{"s":16,"i":24,"d":-167,"l":-49},{"s":16,"i":25,"d":-227,"l":-64},{"s":16,"i":26,"d":-262,"l":-79},{"s":16,"i":27,"d":-287,"l":-94},{"s":16,"i":28,"d":-302,"l":-106},{"s":16,"i":29,"d":-309,"l":-116},{"s":16,"i":30,"d":-299,"l":-104},{"s":16,"i":31,"d":-285,"l":-89},{"s":16,"i":32,"d":-262,"l":-71},{"s":16,"i":33,"d":-232,"l":-54},{"s":16,"i":34,"d":-192,"l":-38},{"s":16,"i":35,"d":-147,"l":-24},{"s":16,"i":36,"d":-97,"l":-12},{"s":16,"i":37,"d":-47,"l":-4},{"s":16,"i":38,"d":0,"l":2},

      {"s":17,"i":0,"d":0,"l":2},{"s":17,"i":1,"d":-2,"l":-26},{"s":17,"i":2,"d":-4,"l":-56},{"s":17,"i":3,"d":-6,"l":-86},{"s":17,"i":4,"d":-7,"l":-111},{"s":17,"i":5,"d":-5,"l":-126},{"s":17,"i":6,"d":-2,"l":-106},{"s":17,"i":7,"d":2,"l":-86},{"s":17,"i":8,"d":8,"l":-76},{"s":17,"i":9,"d":26,"l":-66},{"s":17,"i":10,"d":53,"l":-52},{"s":17,"i":11,"d":70,"l":-37},{"s":17,"i":12,"d":88,"l":-26},{"s":17,"i":13,"d":103,"l":-21},{"s":17,"i":14,"d":153,"l":-17},{"s":17,"i":15,"d":193,"l":-12},{"s":17,"i":16,"d":253,"l":-4}
    ]
  },
  "layer": [
    {
      "data": {"name": "axes"},
      "mark": {"type": "rule", "color": "black", "strokeWidth": 2.4},
      "encoding": {
        "x": {"field": "d1", "type": "quantitative", "scale": {"domain": [-547, 555], "nice": false, "zero": false}, "axis": null},
        "y": {"field": "l1", "type": "quantitative", "scale": {"domain": [-326, 334], "nice": false, "zero": false}, "axis": null},
        "x2": {"field": "d2"},
        "y2": {"field": "l2"}
      }
    },
    {
      "data": {"name": "loops"},
      "mark": {"type": "line", "color": "black", "strokeWidth": 2.7, "interpolate": "catmull-rom", "strokeJoin": "round", "strokeCap": "round"},
      "encoding": {
        "x": {"field": "d", "type": "quantitative", "scale": {"domain": [-547, 555], "nice": false, "zero": false}, "axis": null},
        "y": {"field": "l", "type": "quantitative", "scale": {"domain": [-326, 334], "nice": false, "zero": false}, "axis": null},
        "detail": {"field": "s", "type": "nominal"},
        "order": {"field": "i", "type": "quantitative"}
      }
    },
    {
      "data": {"name": "labels"},
      "mark": {"type": "text", "font": "Liberation Serif", "fontSize": 31, "align": "left", "baseline": "alphabetic", "color": "black"},
      "encoding": {
        "x": {"field": "d", "type": "quantitative", "scale": {"domain": [-547, 555], "nice": false, "zero": false}, "axis": null},
        "y": {"field": "l", "type": "quantitative", "scale": {"domain": [-326, 334], "nice": false, "zero": false}, "axis": null},
        "text": {"field": "t", "type": "nominal"}
      }
    }
  ]
}
